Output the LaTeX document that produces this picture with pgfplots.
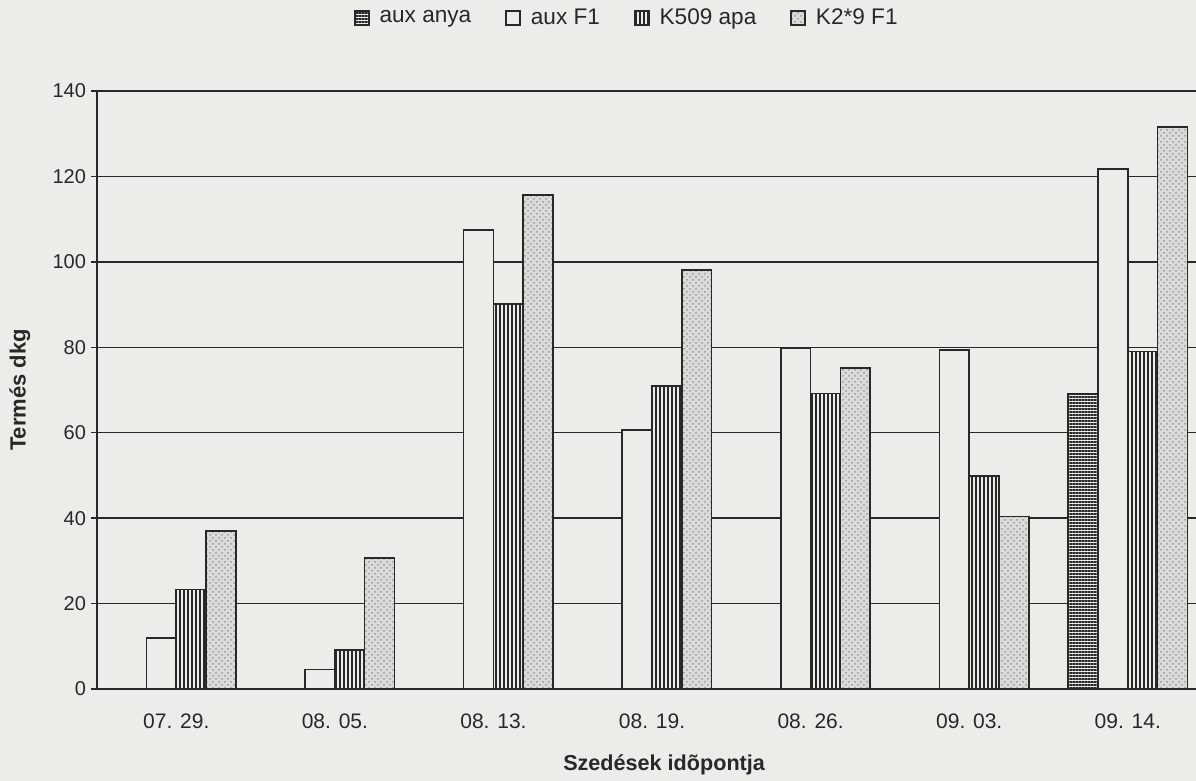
\documentclass[border=0pt]{standalone}
\usepackage{pgfplots}
\pgfplotsset{compat=1.18}
\usepackage{fontspec}
\setmainfont{Liberation Sans}
\usetikzlibrary{patterns,patterns.meta}
\definecolor{paper}{RGB}{236,236,233}
\definecolor{ink}{RGB}{40,40,40}
\begin{document}
\begin{tikzpicture}
\useasboundingbox (0,0) rectangle (598pt,390.5pt);
\fill[paper] (0,0) rectangle (598pt,390.5pt);
\begin{axis}[
  at={(48.5pt,46pt)}, anchor=south west,
  scale only axis, width=549.5pt, height=299pt,
  xmin=-0.5, xmax=6.43, ymin=0, ymax=140,
  ytick={0,20,...,140},
  xtick={0,1,2,3,4,5,6},
  xticklabels={07. 29.,08. 05.,08. 13.,08. 19.,08. 26.,09. 03.,09. 14.},
  axis x line*=bottom, axis y line*=left,
  axis line style={ink, line width=0.8pt, -},
  ymajorgrids, grid style={ink, line width=0.7pt},
  x tick style={draw=none},
  y tick style={ink, line width=0.7pt},
  major tick length=3pt,
  tick align=outside,
  ytick pos=left,
  /pgf/number format/assume math mode=true,
  yticklabel style={font=\fontsize{10}{12}\selectfont, text=ink, xshift=1pt},
  xticklabel style={font=\fontsize{10.5}{12}\selectfont, text=ink, yshift=-6pt},
  ylabel={Termés dkg},
  xlabel={Szedések idõpontja},
  every axis y label/.style={at={(rel axis cs:0,0.5)}, xshift=-38.5pt, rotate=90, anchor=center, font=\bfseries\fontsize{11}{13}\selectfont, text=ink},
  every axis x label/.style={at={(rel axis cs:0.516,0)}, anchor=center, yshift=-38pt, font=\bfseries\fontsize{10.8}{13}\selectfont, text=ink},
  ybar=0pt, bar width=0.188,
  legend columns=4,
  legend style={at={(rel axis cs:0.483,1.122)}, anchor=center, draw=none, fill=none,
    font=\fontsize{11.3}{13}\selectfont, text=ink,
    /tikz/every odd column/.append style={column sep=3pt},
    /tikz/every even column/.append style={column sep=15pt}},
  legend image code/.code={\draw[#1] (0pt,-3.6pt) rectangle (7pt,3.6pt);},
]
\addplot[draw=ink, line width=0.8pt, fill=paper, postaction={pattern={Lines[angle=0,distance=1.5pt,line width=0.55pt]}, pattern color=ink}]
  coordinates {(0,0) (1,0) (2,0) (3,0) (4,0) (5,0) (6,69)};
\addlegendentry{aux anya}
\addplot[draw=ink, line width=0.8pt, fill=paper]
  coordinates {(0,12) (1,4.6) (2,107.5) (3,60.7) (4,79.8) (5,79.4) (6,121.8)};
\addlegendentry{aux F1}
\addplot[draw=ink, line width=0.8pt, fill=paper, postaction={pattern={Lines[angle=90,distance=2pt,line width=0.7pt]}, pattern color=ink}]
  coordinates {(0,23.3) (1,9.1) (2,90.2) (3,71) (4,69.2) (5,49.9) (6,79)};
\addlegendentry{K509 apa}
\addplot[draw=ink, line width=0.8pt, fill=gray!28, postaction={pattern=crosshatch dots, pattern color=gray!80}]
  coordinates {(0,37) (1,30.6) (2,115.7) (3,98.1) (4,75.1) (5,40.4) (6,131.6)};
\addlegendentry{K2*9 F1}
\end{axis}
\end{tikzpicture}
\end{document}
